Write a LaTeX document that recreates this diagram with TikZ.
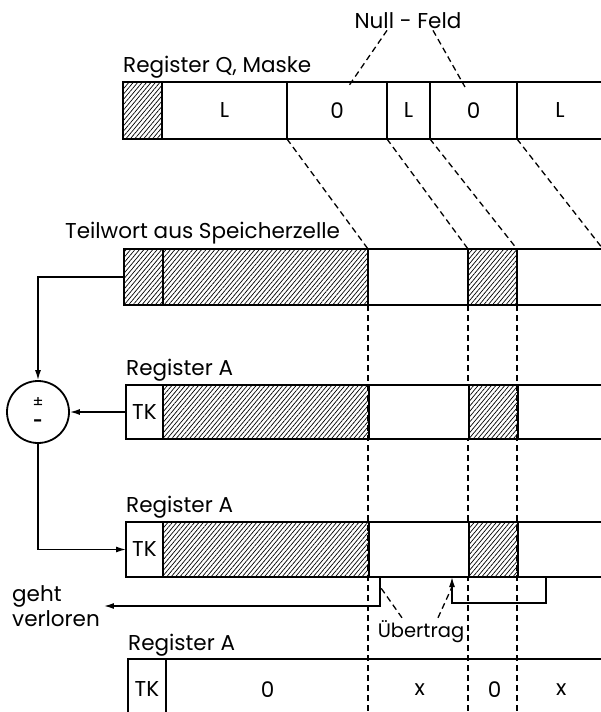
\documentclass[tikz,border=0pt]{standalone}
\usepackage{fontspec}
\setmainfont{Poppins}
\usetikzlibrary{patterns.meta,arrows.meta,calc}

\begin{document}
\begin{tikzpicture}[x=1pt, y=-1pt,
  every node/.style={font=\fontsize{21.5}{25}\selectfont},
  cell/.style={draw, line width=1.8pt, fill=white, inner sep=0pt, outer sep=0pt, anchor=north west},
  hatch/.style={cell, pattern={Lines[angle=50,distance=3.4pt,line width=0.7pt]}},
  nullcell/.style={cell, line width=2.8pt},
  label/.style={anchor=base west, inner sep=0pt},
  lead/.style={line width=1.3pt, dash pattern=on 6pt off 4pt},
  tip/.style={-{Latex[length=10pt,width=6pt]}, line width=1.4pt}]

\clip (0,0) rectangle (601,712);
\coordinate (bot) at (0,715);

\node[label] (lq) at (123,72) {Register Q, Maske};
\node[label] (lt) at (65,238) {Teilwort aus Speicherzelle};
\node[label] (la1) at (126,375) {Register A};
\node[label] (la2) at (126,512) {Register A};
\node[label] (la3) at (128,650) {Register A};
\node[anchor=base, inner sep=2pt] (nf) at (408,28) {Null - Feld};
\node[anchor=base, inner sep=2pt, font=\fontsize{19.5}{23}\selectfont] (ue) at (421,637) {Übertrag};
\node[anchor=west, align=left, inner sep=4pt] (lost) at (8,606) {geht\\verloren};

\node[hatch, minimum width=39, minimum height=57] (q0) at (123,82) {};
\node[cell, minimum width=125, minimum height=57] (q1) at (162,82) {L};
\node[cell, minimum width=43, minimum height=57] (q3) at (387,82) {L};
\node[cell, minimum width=86, minimum height=57] (q5) at (517,82) {L};
\node[nullcell, minimum width=100, minimum height=57] (q2) at (287,82) {0};
\node[nullcell, minimum width=87, minimum height=57] (q4) at (430,82) {0};

\node[hatch, minimum width=39, minimum height=56] (t0) at (124,249) {};
\node[hatch, minimum width=205, minimum height=56] (t1) at (163,249) {};
\node[cell, minimum width=100, minimum height=56] (t2) at (368,249) {};
\node[hatch, minimum width=49, minimum height=56] (t3) at (468,249) {};
\node[cell, minimum width=86, minimum height=56] (t4) at (517,249) {};

\begin{scope}[lead]
\draw (t2.south west) -- (t2.south west |- bot);
\draw (t3.south west) -- (t3.south west |- bot);
\draw (t4.south west) -- (t4.south west |- bot);
\end{scope}

\node[cell, minimum width=37, minimum height=54] (a0) at (126,385) {TK};
\node[hatch, minimum width=206, minimum height=54] (a1) at (163,385) {};
\node[cell, minimum width=100, minimum height=54] (a2) at (369,385) {};
\node[hatch, minimum width=49, minimum height=54] (a3) at (469,385) {};
\node[cell, minimum width=86, minimum height=54] (a4) at (518,385) {};

\node[cell, minimum width=37, minimum height=55] (b0) at (126,522) {TK};
\node[hatch, minimum width=206, minimum height=55] (b1) at (163,522) {};
\node[cell, minimum width=100, minimum height=55] (b2) at (369,522) {};
\node[hatch, minimum width=49, minimum height=55] (b3) at (469,522) {};
\node[cell, minimum width=86, minimum height=55] (b4) at (518,522) {};

\node[cell, line width=2.4pt, minimum width=38, minimum height=60] (c0) at (128,659) {TK};
\node[anchor=north west, minimum width=203, minimum height=60, inner sep=0pt] (c1) at (166,659) {0};
\node[anchor=north west, minimum width=101, minimum height=60, inner sep=0pt] (c2) at (369,659) {x};
\node[anchor=north west, minimum width=49, minimum height=60, inner sep=0pt] (c3) at (470,659) {0};
\node[anchor=north west, minimum width=86, minimum height=60, inner sep=0pt] (c4) at (518,659) {x};
\draw[line width=1.8pt] (c0.north east) -- (c4.north east);

\node[draw, circle, line width=1.8pt, minimum size=62, inner sep=0pt, align=center, font=\fontsize{16}{19}\selectfont] (sum) at (38,412) {±\\\textbf{-}};

\begin{scope}[lead]
\draw ([xshift=-21pt]nf.south) -- ($(q2.north west)+(61,5)$);
\draw ([xshift=25pt]nf.south) -- ($(q4.north west)+(35,5)$);
\draw (q2.south west) -- (t2.north west);
\draw (q3.south west) -- (t3.north west);
\draw (q4.south west) -- (t4.north west);
\draw (q5.south west) -- (t4.north east);
\draw ([xshift=-19pt]ue.north) -- ($(b2.south west)+(12,11)$);
\draw ([xshift=17pt]ue.north) -- ($(b2.south west)+(83,10)$);
\end{scope}

\begin{scope}[tip]
\draw (t0.west) -| (sum.north);
\draw (a0.west) -- (sum.east);
\draw (sum.south) |- (b0.west);
\draw ($(b2.south west)+(11,0)$) |- (lost.east);
\draw ($(b4.south west)+(28,0)$) -- ++(0,26) -| ($(b2.south west)+(83,0)$);
\end{scope}

\end{tikzpicture}
\end{document}
